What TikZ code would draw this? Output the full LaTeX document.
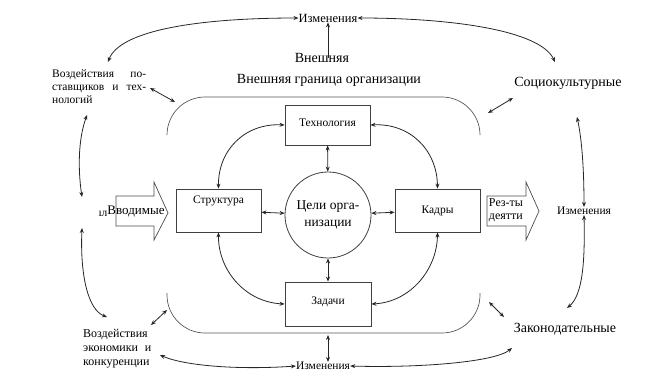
\documentclass[tikz,border=0pt]{standalone}
\usepackage{fontspec}
\setmainfont{Liberation Serif}
\newfontfamily\lserif{Liberation Serif}
\usetikzlibrary{arrows.meta}
\begin{document}
\begin{tikzpicture}[x=1pt,y=-1pt,
  txt/.style={inner sep=0pt,font=\lserif\fontsize{14}{16}\selectfont},
  smalltxt/.style={inner sep=0pt,font=\lserif\fontsize{11.5}{13}\selectfont},
  box/.style={draw=black!75,line width=0.8pt,inner sep=0pt},
  dbl/.style={{Stealth[length=5pt,width=4pt]}-{Stealth[length=5pt,width=4pt]},line width=0.8pt,black!85},
  sgl/.style={-{Stealth[length=5pt,width=4pt]},line width=0.8pt,black!85},
  border/.style={line width=0.7pt,black!65,rounded corners=38pt},
  blockarrow/.style={draw=black!70,line width=0.7pt,fill=white}]
\useasboundingbox (0,0) rectangle (649,384);

% outer labels
\node[txt,font=\lserif\fontsize{12.5}{14}\selectfont] (izmT) at (328,18) {Изменения};
\node[txt] (vnesh) at (322,58) {Внешняя};
\node[txt] (granica) at (329,80) {Внешняя граница организации};
\node[txt] (socio) at (568,83) {Социокультурные};
\node[smalltxt] (izmR) at (584,211) {Изменения};
\node[txt] (zakon) at (565,329) {Законодательные};
\node[smalltxt] (izmB) at (323,366) {Изменения};
\node[smalltxt,anchor=north west,text width=94pt,align=left] (vozd1) at (52,69)
  {Воздействия\hfill по-\\ставщиков\hfill и\hfill тех-\\нологий};
\node[smalltxt,anchor=north west,text width=68pt,align=left,font=\lserif\fontsize{12}{14}\selectfont] (vozd2) at (83,329)
  {Воздействия\\экономики\hfill и\\конкуренции};

% boundary
\draw[border] (167,135) -- (167,97) -- (480,97) -- (480,135);
\draw[border] (167,293) -- (167,333) -- (480,333) -- (480,293);

% inner boxes
\node[box,minimum width=85pt,minimum height=40pt] (tech) at (327.5,125) {};
\node[smalltxt] (techT) at (327.5,123) {Технология};
\node[box,minimum width=85pt,minimum height=43pt] (str) at (218.5,210.5) {};
\node[smalltxt] (strT) at (218.5,201) {Структура};
\node[box,minimum width=85pt,minimum height=43pt] (kadr) at (437.5,210.5) {};
\node[smalltxt] (kadrT) at (437.5,211) {Кадры};
\node[box,minimum width=86pt,minimum height=44pt] (zad) at (328,304) {};
\node[smalltxt] (zadT) at (328,302) {Задачи};
\node[box,circle,minimum size=86pt,align=center,font=\lserif\fontsize{13.5}{17}\selectfont] (goal) at (328,215) {Цели орга-\\низации};

% block arrows
\draw[blockarrow] (116,196) -- (154,196) -- (154,182) -- (168,213) -- (154,240) -- (154,226) -- (116,226) -- cycle;
\node[smalltxt,font=\lserif\fontsize{13}{14}\selectfont] (vvod) at (136,211) {Вводимые};
\node[smalltxt] (il) at (103,214) {ıл};
\draw[blockarrow] (487,196) -- (526,196) -- (526,182) -- (539,211) -- (526,240) -- (526,226) -- (487,226) -- cycle;
\node[smalltxt,align=left,font=\lserif\fontsize{12}{13}\selectfont] (rez) at (506,210) {Рез-ты\\деятти};

% inner connectors
\draw[dbl] (tech) -- (goal);
\draw[dbl] (goal) -- (zad);
\draw[dbl] (str) -- (goal);
\draw[dbl] (goal) -- (kadr);
\draw[dbl] (tech.west) .. controls (245,123) and (218,150) .. (str.north);
\draw[dbl] (tech.east) .. controls (410,123) and (437,150) .. (kadr.north);
\draw[dbl] (str.south) .. controls (218,270) and (245,302) .. (zad.west);
\draw[dbl] (kadr.south) .. controls (437,270) and (410,302) .. (zad.east);
\coordinate (zb) at (328,335);
\draw[dbl] (zb) -- (izmB.north -| zb);

% outer connectors
\draw[sgl] (vnesh.center -| izmT) -- (izmT.south);
\coordinate (a1) at (108,62);
\draw[dbl] (a1) .. controls (120,30) and (200,18) .. (izmT.west);
\coordinate (a2) at (555,62);
\draw[dbl] (izmT.east) .. controls (450,18) and (540,30) .. (a2);
\coordinate (b1) at (160,355);
\draw[dbl] (b1) .. controls (185,366) and (240,370) .. (izmB.west);
\coordinate (b2) at (512,348);
\draw[dbl] (izmB.east) .. controls (420,368) and (495,362) .. (b2);
\coordinate (l1) at (87,115);
\coordinate (l2) at (82,197);
\draw[dbl] (l1) .. controls (78,140) and (78,170) .. (l2);
\coordinate (l3) at (82,228);
\coordinate (l4) at (107,317);
\draw[dbl] (l3) .. controls (80,275) and (88,310) .. (l4);
\coordinate (r1) at (577,117);
\draw[dbl] (r1) .. controls (582,140) and (584,170) .. (izmR.north);
\coordinate (r2) at (567,308);
\draw[dbl] (izmR.south) .. controls (585,260) and (583,295) .. (r2);

% short diagonal arrows
\coordinate (s1) at (150,88); \coordinate (s2) at (175,102);
\draw[dbl] (s1) -- (s2);
\coordinate (s3) at (488,113); \coordinate (s4) at (513,98);
\draw[dbl] (s3) -- (s4);
\coordinate (s5) at (489,302); \coordinate (s6) at (504,317);
\draw[dbl] (s5) -- (s6);
\coordinate (s7) at (151,325); \coordinate (s8) at (167,310);
\draw[dbl] (s7) -- (s8);
\end{tikzpicture}
\end{document}
